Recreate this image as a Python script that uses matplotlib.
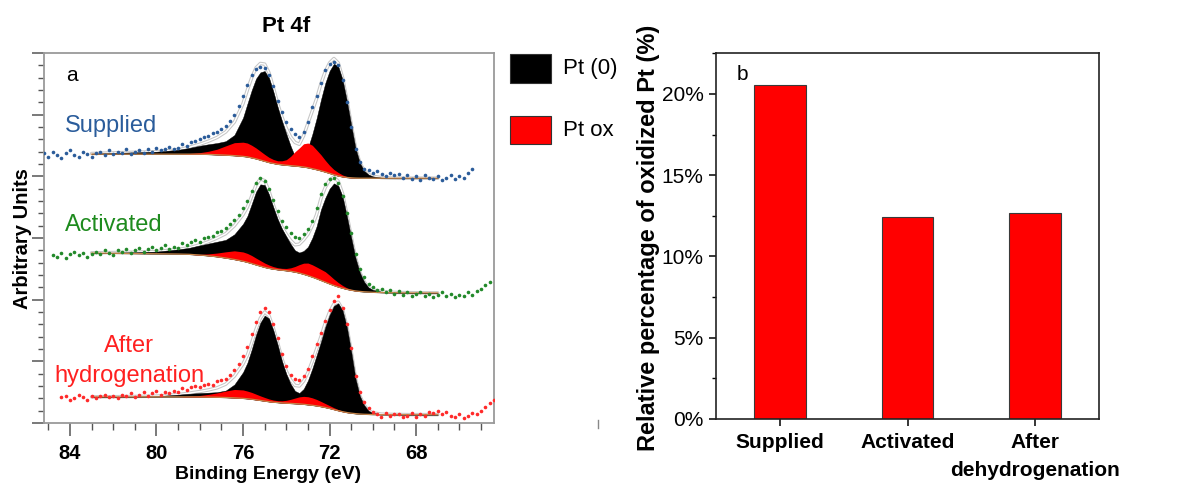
import numpy as np
import matplotlib
matplotlib.use("Agg")
import matplotlib.pyplot as plt
from matplotlib.patches import Rectangle
from matplotlib.lines import Line2D
from matplotlib.ticker import MultipleLocator, FixedLocator, FuncFormatter

plt.rcParams['font.family'] = ['Liberation Sans', 'DejaVu Sans']

# ---------------- Panel a: XPS Pt 4f ----------------
# Fit grid (binding energy, eV)
fit_be = [83.0, 82.0, 81.0, 80.0, 79.0, 78.5, 78.0, 77.6, 77.2, 76.8, 76.4, 76.0,
          75.8, 75.6, 75.4, 75.2, 75.0, 74.8, 74.6, 74.4, 74.2, 74.0, 73.8, 73.6,
          73.4, 73.2, 73.0, 72.8, 72.6, 72.4, 72.2, 72.0, 71.8, 71.6, 71.4, 71.2,
          71.0, 70.8, 70.6, 70.4, 70.2, 70.0, 69.6, 69.2, 68.8, 68.4, 68.0, 67.0]

# Supplied (offset arbitrary units)
sup_env = [21.85, 21.9, 21.95, 22.0, 22.15, 22.35, 22.6, 22.85, 23.15, 23.6, 24.4, 25.9,
           27.0, 28.0, 28.8, 29.15, 29.1, 28.4, 27.2, 25.9, 24.8, 23.9, 23.2, 22.75,
           22.6, 23.3, 24.3, 25.3, 26.3, 27.5, 28.5, 29.2, 29.55, 29.2, 28.0, 26.2,
           24.2, 22.3, 21.1, 20.45, 20.15, 20.0, 19.9, 19.87, 19.85, 19.85, 19.85, 19.85]
sup_bg = [21.8, 21.8, 21.8, 21.8, 21.8, 21.8, 21.8, 21.78, 21.75, 21.72, 21.68, 21.62,
          21.58, 21.5, 21.42, 21.32, 21.22, 21.12, 21.05, 20.98, 20.94, 20.9, 20.87, 20.84,
          20.8, 20.76, 20.7, 20.62, 20.54, 20.45, 20.35, 20.24, 20.13, 20.03, 19.96, 19.91,
          19.88, 19.86, 19.85, 19.85, 19.85, 19.85, 19.85, 19.85, 19.85, 19.85, 19.85, 19.85]
sup_ox = [0, 0, 0, 0, 0, 0.05, 0.12, 0.25, 0.45, 0.75, 1.05, 1.15,
          1.12, 1.02, 0.88, 0.72, 0.56, 0.42, 0.32, 0.28, 0.32, 0.45, 0.75, 1.15,
          1.5, 1.88, 2.0, 1.9, 1.6, 1.3, 0.95, 0.65, 0.42, 0.28, 0.15, 0.07,
          0.03, 0.01, 0, 0, 0, 0, 0, 0, 0, 0, 0, 0]

# Activated
act_env = [13.8, 13.82, 13.85, 13.9, 14.08, 14.2, 14.45, 14.7, 15.0, 15.35, 16.0, 16.9,
           17.5, 18.4, 19.3, 19.8, 19.65, 18.8, 17.7, 16.7, 15.9, 15.3, 14.8, 14.45,
           14.5, 14.85, 15.3, 16.0, 16.9, 18.2, 19.1, 19.7, 19.95, 19.6, 18.6, 16.9,
           15.1, 13.4, 12.2, 11.45, 11.0, 10.8, 10.65, 10.6, 10.58, 10.57, 10.56, 10.55]
act_bg = [13.78, 13.76, 13.74, 13.72, 13.7, 13.68, 13.62, 13.56, 13.48, 13.38, 13.26, 13.12,
          13.03, 12.93, 12.82, 12.72, 12.62, 12.54, 12.48, 12.43, 12.39, 12.35, 12.3, 12.24,
          12.16, 12.06, 11.95, 11.83, 11.7, 11.56, 11.42, 11.28, 11.15, 11.03, 10.93, 10.84,
          10.77, 10.71, 10.67, 10.64, 10.62, 10.6, 10.58, 10.57, 10.56, 10.55, 10.55, 10.55]
act_ox = [0, 0, 0, 0, 0, 0, 0.05, 0.15, 0.3, 0.5, 0.7, 0.75,
          0.72, 0.65, 0.55, 0.45, 0.35, 0.27, 0.2, 0.16, 0.15, 0.18, 0.28, 0.45,
          0.68, 0.9, 1.02, 1.0, 0.95, 0.9, 0.85, 0.7, 0.52, 0.36, 0.22, 0.12,
          0.06, 0.02, 0, 0, 0, 0, 0, 0, 0, 0, 0, 0]

# After hydrogenation
aft_env = [2.12, 2.13, 2.15, 2.18, 2.3, 2.42, 2.55, 2.68, 2.85, 3.15, 3.8, 4.8,
           5.5, 6.5, 7.6, 8.5, 9.0, 8.7, 7.7, 6.5, 5.2, 4.2, 3.5, 3.05,
           3.0, 3.4, 4.1, 5.0, 6.0, 7.0, 8.1, 9.0, 9.65, 9.8, 9.2, 7.8,
           5.8, 3.6, 2.2, 1.45, 1.0, 0.82, 0.72, 0.7, 0.69, 0.68, 0.68, 0.68]
aft_bg = [2.12, 2.12, 2.12, 2.12, 2.12, 2.12, 2.11, 2.1, 2.09, 2.07, 2.04, 2.0,
          1.97, 1.93, 1.88, 1.83, 1.78, 1.73, 1.69, 1.66, 1.63, 1.61, 1.59, 1.57,
          1.55, 1.52, 1.48, 1.44, 1.39, 1.33, 1.26, 1.18, 1.09, 1.0, 0.92, 0.85,
          0.8, 0.76, 0.73, 0.71, 0.7, 0.69, 0.68, 0.68, 0.68, 0.68, 0.68, 0.68]
aft_ox = [0, 0, 0, 0, 0, 0.05, 0.12, 0.22, 0.35, 0.52, 0.68, 0.68,
          0.62, 0.55, 0.46, 0.37, 0.29, 0.22, 0.17, 0.15, 0.17, 0.23, 0.33, 0.45,
          0.57, 0.64, 0.65, 0.6, 0.52, 0.42, 0.32, 0.23, 0.15, 0.09, 0.05, 0.02,
          0, 0, 0, 0, 0, 0, 0, 0, 0, 0, 0, 0]

# Measured points (0.2 eV steps, starting at given binding energy)
sup_start = 85.2
sup_data = [21.9, 21.6, 22.0, 21.7, 21.5, 21.9, 22.1, 21.7, 21.6, 22.0, 21.8, 21.6,
            21.9, 22.0, 21.7, 22.1, 21.8, 22.0, 21.9, 22.2, 21.8, 22.0, 22.1, 21.9, 22.2, 22.0,
            22.3, 22.1, 22.2, 22.4, 22.2, 22.3,
            22.6, 22.5, 22.8, 22.9, 23.0, 23.2, 23.3, 23.5, 23.6, 23.8,
            24.1, 24.5, 25.0, 25.7, 26.5, 27.4, 28.2, 28.7, 28.9, 28.8,
            28.2, 27.3, 26.1, 25.2, 24.4, 23.8, 23.4, 23.2, 23.6, 24.4,
            25.6, 26.5, 27.6, 28.6, 29.1, 29.3, 29.0, 27.8, 26.0, 24.0,
            22.2, 21.2, 20.6, 20.5, 20.3, 20.4, 20.2, 20.0, 20.3, 20.1,
            20.2, 19.9, 20.1, 19.8, 20.0, 19.7, 20.1, 19.9, 19.8, 20.0, 19.7, 19.9,
            20.1, 19.8, 20.0, 19.9, 20.3, 20.6]
act_start = 84.8
act_data = [13.6, 13.5, 13.8, 13.4, 13.7, 13.9, 13.6, 13.8, 13.5, 13.7,
            13.9, 13.7, 14.0, 13.8, 13.6, 14.0, 13.9, 14.1, 13.8, 14.0, 14.2, 13.9, 14.1, 14.3,
            14.0, 14.2, 14.4, 14.1, 14.3, 14.2,
            14.6, 14.4, 14.7, 14.8, 14.7, 15.0, 15.1, 15.2, 15.5, 15.6,
            15.8, 16.1, 16.5, 16.9, 17.4, 18.0, 18.8, 19.5, 19.9, 19.6,
            19.0, 18.1, 17.2, 16.4, 15.9, 15.4, 15.1, 15.0, 15.3, 15.7,
            16.4, 17.4, 18.6, 19.4, 19.8, 19.9, 19.5, 18.4, 17.0, 15.4,
            13.7, 12.5, 11.8, 11.3, 11.0, 10.8, 10.9, 10.6, 10.8, 10.5,
            10.7, 10.4, 10.6, 10.3, 10.5, 10.6, 10.3, 10.5, 10.2, 10.4, 10.6, 10.3,
            10.5, 10.2, 10.4, 10.3, 10.6, 10.4, 10.7, 10.9, 11.2, 11.4]
aft_start = 84.4
aft_data = [2.1, 2.2, 1.9, 2.0, 2.3, 2.1, 1.9, 2.2,
            2.0, 2.2, 2.3, 2.1, 2.2, 2.0, 2.3, 2.2, 2.4, 2.1, 2.3, 2.5, 2.2, 2.4,
            2.6, 2.3, 2.5, 2.4, 2.6, 2.5,
            2.8, 2.7, 2.9, 3.0, 2.9, 3.1, 3.2, 3.1, 3.4, 3.5,
            3.6, 3.9, 4.3, 4.8, 5.4, 6.2, 7.2, 8.2, 9.0, 9.3,
            9.0, 8.0, 6.9, 5.6, 4.6, 3.9, 3.6, 3.5, 3.8, 4.4,
            5.4, 6.4, 7.3, 8.3, 9.2, 9.9, 10.3, 9.3, 8.0, 6.1,
            3.8, 2.5, 1.7, 1.2, 0.9, 0.7, 0.5, 0.8, 0.6, 0.7,
            0.7, 0.5, 0.6, 0.8, 0.5, 0.7, 0.6, 0.9, 0.8, 1.0, 0.7, 0.9,
            0.6, 0.5, 0.7, 0.4, 0.6, 0.8, 0.7, 1.0, 1.3, 1.6, 1.9]
be_step = 0.2

spectra_names = ["Supplied", "Activated", "After hydrogenation"]
legend_labels = ["Pt (0)", "Pt ox"]

# ---------------- Panel b: bar chart ----------------
bar_categories = ["Supplied", "Activated", "After\ndehydrogenation"]
bar_values = [20.55, 12.43, 12.7]

# ================= Drawing =================
W, H = 1196, 484
fig = plt.figure(figsize=(W / 100, H / 100), dpi=100)

def fx(px):
    return px / W

def fy(py):
    return 1 - py / H

ax1 = fig.add_axes([fx(44), fy(423), fx(494) - fx(44), fy(53) - fy(423)])
ax1.set_xlim(85.2, 64.4)
ax1.set_ylim(0, 30)

dot_colors = ['#2B5C9A', '#22892A', '#FF2A2A']
fits = [(sup_env, sup_bg, sup_ox), (act_env, act_bg, act_ox), (aft_env, aft_bg, aft_ox)]
datas = [(sup_start, sup_data), (act_start, act_data), (aft_start, aft_data)]
gbe = np.array(fit_be)
for (env, bg, ox), (st, dat), col in zip(fits, datas, dot_colors):
    env = np.array(env); bg = np.array(bg); ox = np.array(ox)
    ax1.plot(gbe, env, color='#c6c6c6', lw=2.5, zorder=1, solid_capstyle='round')
    ax1.plot(gbe, env, color='white', lw=1.0, zorder=1.1)
    ax1.fill_between(gbe, bg, env - ox, color='black', lw=0.3, zorder=2)
    ax1.fill_between(gbe, bg, bg + ox, color='#FF0000', lw=0, zorder=3)
    ax1.plot(gbe, bg, color='#C8864A', lw=0.9, zorder=4)
    xd = st - be_step * np.arange(len(dat))
    ax1.plot(xd, dat, 'o', ms=2.6, mew=0, color=col, zorder=5, clip_on=True)

spine_gray = '#9a9a9a'
for s in ax1.spines.values():
    s.set_color(spine_gray)
    s.set_linewidth(1.3)
ax1.xaxis.set_major_locator(FixedLocator([84, 80, 76, 72, 68]))
ax1.xaxis.set_minor_locator(MultipleLocator(1))
ax1.yaxis.set_major_locator(MultipleLocator(5))
ax1.yaxis.set_minor_locator(MultipleLocator(1))
ax1.tick_params(axis='x', which='major', direction='out', length=9, width=1.1,
                color='#555555', pad=6, labelsize=14.5)
ax1.tick_params(axis='x', which='minor', direction='out', length=5, width=1.0, color='#555555')
ax1.tick_params(axis='y', which='major', direction='out', length=9, width=1.1,
                color='#555555', labelleft=False)
ax1.tick_params(axis='y', which='minor', direction='out', length=4.5, width=1.0, color='#555555')
for lab in ax1.get_xticklabels():
    lab.set_fontweight('bold')

ax1.text(0.05, 0.94, "a", transform=ax1.transAxes, fontsize=15, va='center', ha='left')
ax1.text(0.047, 0.803, spectra_names[0], transform=ax1.transAxes, fontsize=17,
         color='#2A5C9B', va='center', ha='left')
ax1.text(0.047, 0.535, spectra_names[1], transform=ax1.transAxes, fontsize=17,
         color='#1E8B1E', va='center', ha='left')
w1, w2 = spectra_names[2].split(" ")
ax1.text(0.189, 0.208, w1, transform=ax1.transAxes, fontsize=17,
         color='#FF2020', va='center', ha='center')
ax1.text(0.189, 0.128, w2, transform=ax1.transAxes, fontsize=17,
         color='#FF2020', va='center', ha='center')

fig.text(fx(286), fy(26), "Pt 4f", fontsize=16, fontweight='bold', ha='center', va='center')
fig.text(fx(22.5), fy(239), "Arbitrary Units", fontsize=14.5, fontweight='bold',
         rotation=90, ha='center', va='center')
fig.text(fx(268), fy(479), "Binding Energy (eV)", fontsize=14, fontweight='bold',
         ha='center', va='baseline')

# legend (manual)
leg_colors = ['black', '#FF0000']
leg_y = [(54, 83), (116, 144)]
for (y0, y1), c, lab in zip(leg_y, leg_colors, legend_labels):
    fig.add_artist(Rectangle((fx(510), fy(y1)), fx(551) - fx(510), fy(y0) - fy(y1),
                             transform=fig.transFigure, facecolor=c,
                             edgecolor='#333333', lw=0.8))
    fig.text(fx(563), fy((y0 + y1) / 2), lab, fontsize=16, ha='left', va='center')

fig.add_artist(Line2D([fx(598), fx(598)], [fy(420), fy(428)], transform=fig.transFigure,
                      color='#888888', lw=1))

# ---------------- Panel b ----------------
ax2 = fig.add_axes([fx(716), fy(419), fx(1099) - fx(716), fy(52.7) - fy(419)])
xpos = np.arange(len(bar_values))
ax2.bar(xpos, bar_values, width=0.405, color='#FF0000', edgecolor='#3a3a3a', lw=0.8)
ax2.set_xlim(-0.5, 2.5)
ax2.set_ylim(0, 22.54)
ax2.set_xticks(xpos)
ax2.set_xticklabels(bar_categories, fontsize=15, fontweight='bold', linespacing=1.6)
ax2.yaxis.set_major_locator(MultipleLocator(5))
ax2.yaxis.set_minor_locator(MultipleLocator(2.5))
ax2.yaxis.set_major_formatter(FuncFormatter(lambda v, p: f"{v:.0f}%"))
ax2.tick_params(axis='y', which='major', direction='out', length=5, width=1.1, pad=4,
                labelsize=15)
ax2.tick_params(axis='y', which='minor', direction='out', length=3, width=1.0)
ax2.tick_params(axis='x', which='major', direction='out', length=5, width=1.1, pad=5)
for s in ax2.spines.values():
    s.set_linewidth(1.2)
    s.set_color('#222222')
ax2.text(0.055, 0.94, "b", transform=ax2.transAxes, fontsize=15, va='center', ha='left')
fig.text(fx(648), fy(238), "Relative percentage of oxidized Pt (%)", fontsize=17,
         fontweight='bold', rotation=90, ha='center', va='center')

fig.savefig("out.png", dpi=100)
